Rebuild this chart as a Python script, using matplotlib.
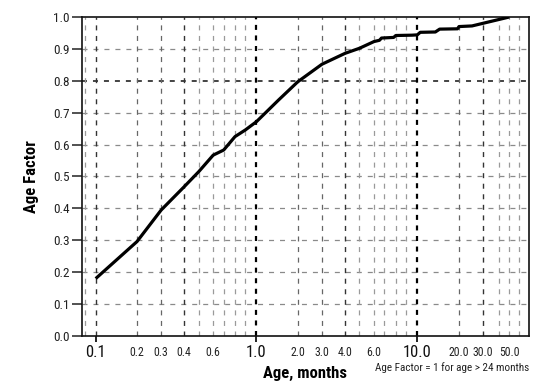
import numpy as np
import matplotlib
matplotlib.use('Agg')
import matplotlib.pyplot as plt
from matplotlib.ticker import FixedLocator, FixedFormatter

plt.rcParams['font.family'] = ['Roboto Condensed', 'Liberation Sans', 'DejaVu Sans']
plt.rcParams['lines.scale_dashes'] = False

# ---- data ----
age = [0.1, 0.2, 0.3, 0.4, 0.5, 0.6, 0.7, 0.8, 0.9, 1.0, 1.45, 2.0, 3.0, 4.0,
       5.0, 6.0, 6.5, 6.7, 7.8, 8.0, 9.5, 10.0, 10.5, 13.5, 14.5, 19.5, 20.0,
       25.0, 50.0]
factor = [0.18, 0.296, 0.395, 0.468, 0.515, 0.567, 0.583, 0.625, 0.646, 0.672,
          0.74, 0.797, 0.852, 0.886, 0.902, 0.923, 0.927, 0.934, 0.936, 0.942,
          0.943, 0.944, 0.952, 0.953, 0.962, 0.963, 0.970, 0.972, 1.0]

major_x = [0.1, 1.0, 10.0]
major_x_labels = ['0.1', '1.0', '10.0']
minor_x = [0.09, 0.2, 0.3, 0.4, 0.5, 0.6, 0.7, 0.8, 0.9,
           2, 3, 4, 5, 6, 7, 8, 9, 20, 30, 40, 50, 60]
minor_x_labels = ['', '0.2', '0.3', '0.4', '', '0.6', '', '', '',
                  '2.0', '3.0', '4.0', '', '6.0', '', '', '',
                  '20.0', '30.0', '', '50.0', '']
y_ticks = [0.0, 0.1, 0.2, 0.3, 0.4, 0.5, 0.6, 0.7, 0.8, 0.9, 1.0]
note = 'Age Factor = 1 for age > 24 months'

# ---- axis calibration (the printed log axis is not a strict log scale) ----
mant_pos = np.array([0, 41.3, 65.5, 88.5, 103, 117.5, 128, 139.3, 149.7, 160.8]) / 160.8
top_pos = np.array([0, 41.7, 65.4, 81.7, 92, 101.7, 111.7, 121, 130, 139]) / 160.8
logs, units = [], []
for d in (-3, -2, -1, 0):
    for i, m in enumerate(range(1, 10)):
        logs.append(d + np.log10(m)); units.append(d + mant_pos[i])
for i, m in enumerate(range(1, 11)):
    logs.append(1 + np.log10(m)); units.append(1 + top_pos[i])
logs = np.array(logs); units = np.array(units)


def fwd(x):
    x = np.asarray(x, dtype=float)
    with np.errstate(divide='ignore', invalid='ignore'):
        lx = np.log10(np.clip(x, 1e-3, None))
    return np.interp(lx, logs, units)


def inv(u):
    return 10 ** np.interp(np.asarray(u, dtype=float), units, logs)


fig = plt.figure(figsize=(5.56, 3.85), dpi=100)
ax = fig.add_axes([81.6 / 556, 1 - 336 / 385, (529 - 81.6) / 556, (336 - 17) / 385])
ax.set_xscale('function', functions=(fwd, inv))
ax.set_xlim(0.087, 70)
ax.set_ylim(0, 1)

# grid
dash = (0, (3.6, 4.3))
for v in y_ticks[1:-1]:
    dark = abs(v - 0.8) < 1e-9
    ax.axhline(v, color='#111111' if dark else '#8a8a8a', lw=1.1 if dark else 0.9,
               ls=dash, zorder=1)
vdash = (0, (3.6, 4.0))
for v in minor_x + major_x:
    if v in (1.0, 10.0):
        c, w = '#000000', 1.6
    elif v in (0.1, 0.4, 4, 30):
        c, w = '#333333', 1.0
    elif v in (0.2, 0.3, 2, 3, 20):
        c, w = '#666666', 0.9
    else:
        c, w = '#9a9a9a', 0.9
    ax.axvline(v, color=c, lw=w, ls=vdash, zorder=1)

ax.plot(age, factor, color='black', lw=2.3, solid_joinstyle='round',
        solid_capstyle='butt', zorder=3)

for s in ax.spines.values():
    s.set_linewidth(1.2)
    s.set_color('#111111')

ax.xaxis.set_major_locator(FixedLocator(major_x))
ax.xaxis.set_major_formatter(FixedFormatter(major_x_labels))
ax.xaxis.set_minor_locator(FixedLocator(minor_x))
ax.xaxis.set_minor_formatter(FixedFormatter(minor_x_labels))
ax.set_yticks(y_ticks)
ax.set_yticklabels([f'{v:.1f}' for v in y_ticks])

ax.tick_params(axis='x', which='major', length=4.5, width=1.3, direction='out',
               pad=2.2, labelsize=12, colors='#111111')
ax.tick_params(axis='x', which='minor', length=0, pad=7.2, labelsize=8.5,
               colors='#222222')
ax.tick_params(axis='y', which='major', length=7.2, width=1.1, direction='out',
               pad=1.4, labelsize=9.5, colors='#222222')
ax.tick_params(axis='y', which='minor', length=0)

ax.set_xlabel('Age, months', fontsize=12, fontweight='bold', labelpad=4)
ax.set_ylabel('Age Factor', fontsize=12, fontweight='bold', labelpad=10)
fig.text(529 / 556, 1 - 368 / 385, note, ha='right', va='center', fontsize=8,
         color='#222222')

fig.savefig('out.png', dpi=100)
